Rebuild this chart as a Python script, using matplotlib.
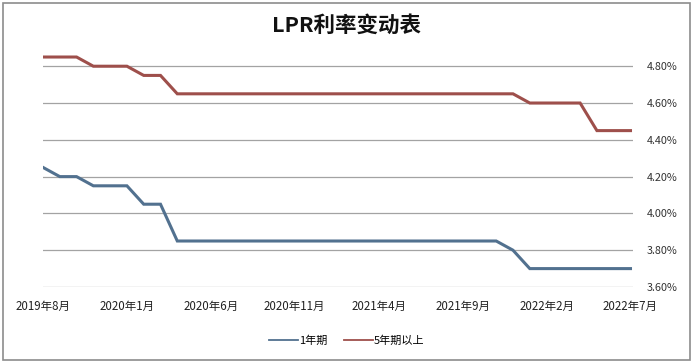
import matplotlib
matplotlib.use("Agg")
import matplotlib.pyplot as plt
from matplotlib.patches import Rectangle
from matplotlib.ticker import FixedLocator, FuncFormatter

plt.rcParams['font.family'] = ['Noto Sans CJK SC', 'DejaVu Sans']

months = ["2019年8月", "2019年9月", "2019年10月", "2019年11月", "2019年12月",
          "2020年1月", "2020年2月", "2020年3月", "2020年4月", "2020年5月",
          "2020年6月", "2020年7月", "2020年8月", "2020年9月", "2020年10月",
          "2020年11月", "2020年12月", "2021年1月", "2021年2月", "2021年3月",
          "2021年4月", "2021年5月", "2021年6月", "2021年7月", "2021年8月",
          "2021年9月", "2021年10月", "2021年11月", "2021年12月", "2022年1月",
          "2022年2月", "2022年3月", "2022年4月", "2022年5月", "2022年6月",
          "2022年7月"]
lpr_1y = [4.25, 4.20, 4.20, 4.15, 4.15, 4.15, 4.05, 4.05, 3.85, 3.85,
          3.85, 3.85, 3.85, 3.85, 3.85, 3.85, 3.85, 3.85, 3.85, 3.85,
          3.85, 3.85, 3.85, 3.85, 3.85, 3.85, 3.85, 3.85, 3.80, 3.70,
          3.70, 3.70, 3.70, 3.70, 3.70, 3.70]
lpr_5y = [4.85, 4.85, 4.85, 4.80, 4.80, 4.80, 4.75, 4.75, 4.65, 4.65,
          4.65, 4.65, 4.65, 4.65, 4.65, 4.65, 4.65, 4.65, 4.65, 4.65,
          4.65, 4.65, 4.65, 4.65, 4.65, 4.65, 4.65, 4.65, 4.65, 4.60,
          4.60, 4.60, 4.60, 4.45, 4.45, 4.45]
y_ticks = [3.60, 3.80, 4.00, 4.20, 4.40, 4.60, 4.80]
series_names = ["1年期", "5年期以上"]
title = "LPR利率变动表"

fig = plt.figure(figsize=(6.93, 3.62), dpi=100)
fig.patch.set_facecolor('white')
fig.patches.append(Rectangle((0.004, 0.006), 0.991, 0.986, transform=fig.transFigure,
                             fill=False, edgecolor='#8c8c8c', linewidth=1.2))

ax = fig.add_axes([43/693, 1-287/362, 590/693, 235.5/362])
x = list(range(len(months)))
ax.plot(x, lpr_1y, color='#52718F', linewidth=2.2, label=series_names[0], solid_joinstyle='miter')
ax.plot(x, lpr_5y, color='#9E4F4B', linewidth=2.2, label=series_names[1], solid_joinstyle='miter')

ax.set_xlim(0, 35.15)
ax.set_ylim(3.60, 4.88)
ax.yaxis.tick_right()
ax.yaxis.set_major_locator(FixedLocator(y_ticks))
ax.yaxis.set_major_formatter(FuncFormatter(lambda v, p: f"{v:.2f}%"))
ax.grid(axis='y', color='#a3a3a3', linewidth=0.9)
ax.set_axisbelow(True)
for s in ax.spines.values():
    s.set_visible(False)
ax.tick_params(axis='y', length=0, pad=10, labelsize=7.8, labelcolor='#333333')
tick_idx = list(range(0, len(months), 5))
ax.set_xticks(tick_idx)
ax.set_xticklabels([months[i] for i in tick_idx])
ax.tick_params(axis='x', length=0, pad=9, labelsize=8.3, labelcolor='#222222')

fig.text(0.5, 1-25/362, title, ha='center', va='center', fontsize=15.5, fontweight='bold', color='#111111')

leg = fig.legend(loc='center', bbox_to_anchor=(0.5, 1-341/362), ncol=2, frameon=False,
                 fontsize=8, handlelength=2.6, handletextpad=0.1, columnspacing=1.5)
for line in leg.get_lines():
    line.set_linewidth(1.3)

fig.savefig('out.png', dpi=100, facecolor='white')
